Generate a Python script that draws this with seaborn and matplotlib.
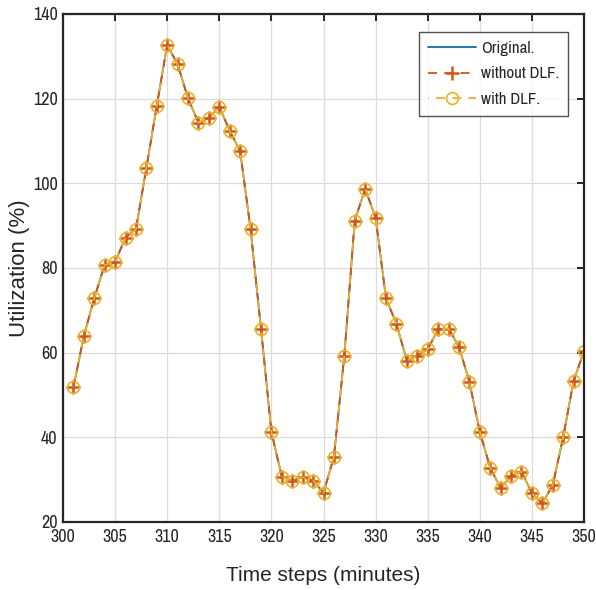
import numpy as np
import pandas as pd
import matplotlib
matplotlib.use("Agg")
import matplotlib.pyplot as plt
import seaborn as sns
from matplotlib import font_manager
from matplotlib.textpath import TextPath
from matplotlib.font_manager import FontProperties

time_steps = list(range(301, 351))
original = [51.8, 63.9, 72.9, 80.7, 81.4, 87.2, 89.2, 103.6, 118.3, 132.7,
            128.1, 120.1, 114.3, 115.5, 118.1, 112.4, 107.6, 89.2, 65.7, 41.3,
            30.7, 29.7, 30.6, 29.8, 26.9, 35.4, 59.3, 91.2, 98.7, 91.9,
            72.8, 66.8, 58.1, 59.3, 60.8, 65.5, 65.7, 61.4, 53.1, 41.3,
            32.8, 28.0, 30.9, 31.9, 26.8, 24.4, 28.7, 40.0, 53.3, 60.4]
without_dlf = list(original)
with_dlf = list(original)

x_ticks = list(range(300, 351, 5))
y_ticks = list(range(20, 141, 20))

sns.set_style("white")
names = {f.name for f in font_manager.fontManager.ttflist}
narrow_candidates = ['Liberation Sans Narrow', 'Arial Narrow', 'Archivo Narrow',
                     'PT Sans Narrow', 'Roboto Condensed', 'IBM Plex Sans Condensed',
                     'Fira Sans Condensed', 'Open Sans Condensed', 'Encode Sans Condensed',
                     'Barlow Semi Condensed']
narrow = next((n for n in narrow_candidates if n in names), 'Liberation Sans')
plt.rcParams['font.family'] = ['Liberation Sans', 'DejaVu Sans']


def size_for(text, family, target_px, cap=20):
    tp = TextPath((0, 0), text, size=20, prop=FontProperties(family=family))
    w = tp.get_extents().width * 100 / 72
    return min(cap, 20 * target_px / w)


tick_fs = size_for("140", narrow, 24, cap=13)
leg_fs = size_for("without DLF.", narrow, 77, cap=12.5)
narrow_prop = FontProperties(family=[narrow, 'DejaVu Sans'], size=leg_fs)

fig = plt.figure(figsize=(5.96, 5.90), dpi=100)
ax = fig.add_axes([63/596, 1-522/590, (584-63)/596, (522-14)/590])

df = pd.DataFrame({"t": time_steps, "orig": original, "wo": without_dlf, "w": with_dlf})

sns.lineplot(data=df, x="t", y="orig", ax=ax, color="#0072BD", lw=1.3,
             label="Original.")
sns.lineplot(data=df, x="t", y="wo", ax=ax, color="#D95319", lw=1.3,
             linestyle=(0, (5, 4)), marker="+", markersize=9.5,
             markeredgecolor="#D95319", markeredgewidth=1.8,
             label="without DLF.")
sns.lineplot(data=df, x="t", y="w", ax=ax, color="#EDB120", lw=1.3,
             linestyle=(4.5, (5, 4)), marker="o", markersize=8.5,
             markerfacecolor="none", markeredgecolor="#EDB120",
             markeredgewidth=1.2, label="with DLF.")

ax.set_xlim(300, 350)
ax.set_ylim(20, 140)
ax.set_xticks(x_ticks)
ax.set_yticks(y_ticks)
ax.grid(True, color="#dcdcdc", lw=0.9)
ax.set_axisbelow(True)
for s in ax.spines.values():
    s.set_color("#262626")
    s.set_linewidth(1.6)
    s.set_visible(True)
ax.tick_params(direction="in", length=5, width=1.4, color="#262626",
               top=True, right=True, labelsize=tick_fs, labelcolor="#262626")
ax.tick_params(axis="x", pad=5)
ax.tick_params(axis="y", pad=4)
for lab in ax.get_xticklabels() + ax.get_yticklabels():
    lab.set_family([narrow, 'DejaVu Sans'])
ax.set_xlabel("Time steps (minutes)", fontsize=15, color="#262626", labelpad=15)
ax.set_ylabel("Utilization (%)", fontsize=16, color="#262626", labelpad=2)

hl = 34.6 / leg_fs
leg = ax.legend(loc="upper right", bbox_to_anchor=(0.969, 0.9646), prop=narrow_prop,
                frameon=True, fancybox=False, edgecolor="#262626",
                handlelength=hl, handletextpad=3.6 / leg_fs, borderpad=0.52,
                labelspacing=0.64, borderaxespad=0)
leg.get_frame().set_linewidth(1.0)
for t in leg.get_texts():
    t.set_color("#262626")

fig.savefig("out.png", dpi=100)
